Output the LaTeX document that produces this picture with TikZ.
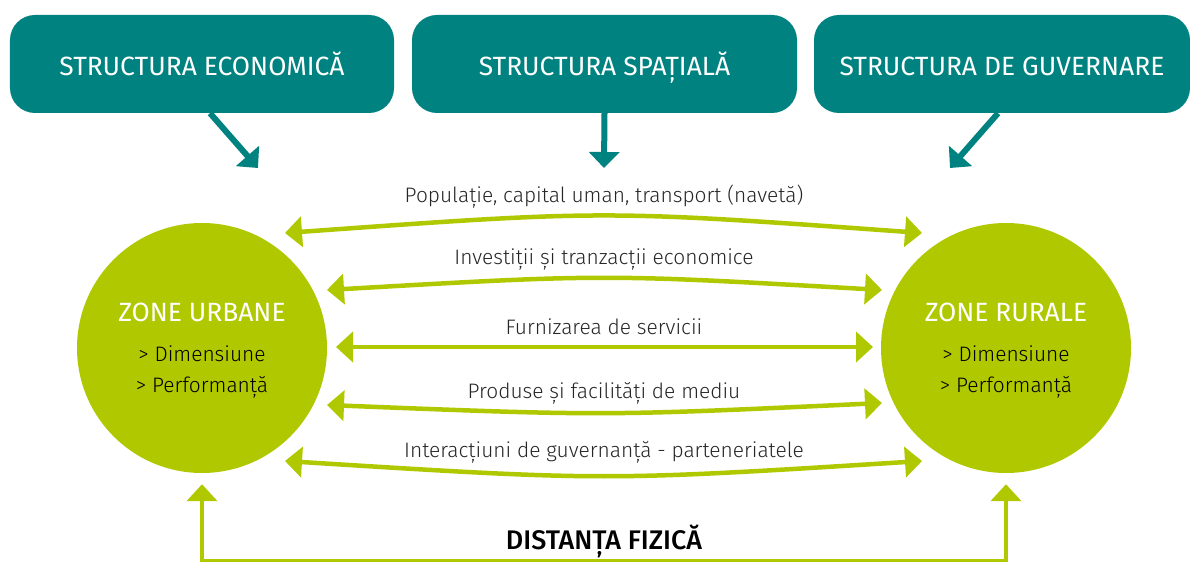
\documentclass[tikz,border=0pt]{standalone}
\usepackage{fontspec}
\setmainfont{Fira Sans}[UprightFont=* Light, BoldFont=* Medium]
\newfontfamily\capsfont{Fira Sans}
\usetikzlibrary{arrows.meta,positioning,shapes}

\definecolor{euteal}{RGB}{0,130,128}
\definecolor{eugreen}{RGB}{176,200,0}

\begin{document}
\begin{tikzpicture}[x = 1bp, y = -1bp,
  topbox/.style = {fill = euteal, rounded corners = 25bp, minimum height = 98bp, text height = 24bp, text depth = 0bp, text = white, font = \fontsize{26.5}{30}\capsfont},
  zone/.style = {circle, fill = eugreen, minimum size = 250bp, inner sep = 0pt},
  zonetitle/.style = {text = white, font = \fontsize{26.5}{30}\capsfont},
  push/.style = {euteal, line width = 6bp, -{Triangle[length=16bp, width=30bp]}},
  flow/.style = {eugreen, line width = 4.5bp, {Triangle[length=17bp, width=30bp]}-{Triangle[length=17bp, width=30bp]}},
  flowlabel/.style = {font = \fontsize{21}{24}\selectfont, text = black!85}]
\useasboundingbox (0,0) rectangle (1190,562);

% the three structures
\node[topbox, minimum width = 384bp] (ecoBox) at (202,64) {STRUCTURA ECONOMICĂ};
\node[topbox, minimum width = 385bp] (spaBox) at (604.5,64) {STRUCTURA SPAȚIALĂ};
\node[topbox, minimum width = 376bp] (govBox) at (1002,64) {STRUCTURA DE GUVERNARE};
\coordinate (ecoTip) at (258,168);
\coordinate (spaTip) at (604,168);
\coordinate (govTip) at (950,168);
\draw[push] ([xshift=8bp]ecoBox.south) -- (ecoTip);
\draw[push] (spaBox.south) -- (spaTip);
\draw[push] ([xshift=-4bp]govBox.south) -- (govTip);

% the two zones
\node[zone] (urban) at (202,348) {};
\node[zone] (rural) at (1006,348) {};
\node[zonetitle] (urbanTitle) at (202,312) {ZONE URBANE};
\node[zonetitle] (ruralTitle) at (1006,312) {ZONE RURALE};
\node[align = center, font = \fontsize{21}{31}\selectfont] (urbanText) at (202,372) {> Dimensiune\\> Performanță};
\node[align = center, font = \fontsize{21}{31}\selectfont] (ruralText) at (1006,372) {> Dimensiune\\> Performanță};

% exchanges between the zones
\coordinate (u1) at (285,233); \coordinate (r1) at (922,233);
\coordinate (u2) at (327,290); \coordinate (r2) at (882,290);
\coordinate (u3) at (336,347); \coordinate (r3) at (873,347);
\coordinate (u4) at (327,405); \coordinate (r4) at (882,403);
\coordinate (u5) at (285,461); \coordinate (r5) at (922,461);
\draw[flow] (u1) .. controls (604,210) .. (r1);
\draw[flow] (u2) .. controls (604,274) .. (r2);
\draw[flow] (u3) -- (r3);
\draw[flow] (u4) .. controls (604,416) .. (r4);
\draw[flow] (u5) .. controls (604,481) .. (r5);
\node[flowlabel] (popLabel) at (604,197) {Populație, capital uman, transport (navetă)};
\node[flowlabel] (invLabel) at (604,260) {Investiții și tranzacții economice};
\node[flowlabel] (servLabel) at (604,327) {Furnizarea de servicii};
\node[flowlabel] (prodLabel) at (604,393) {Produse și facilități de mediu};
\node[flowlabel] (govLabel) at (604,452) {Interacțiuni de guvernanță - parteneriatele};

% physical distance
\coordinate (baseLine) at (604,561);
\draw[flow, shorten <= 11bp, shorten >= 11bp] (urban.south) |- (baseLine) -| (rural.south);
\node[font = \fontsize{27}{30}\selectfont\bfseries] (distLabel) at (604,541) {DISTANȚA FIZICĂ};
\end{tikzpicture}
\end{document}
